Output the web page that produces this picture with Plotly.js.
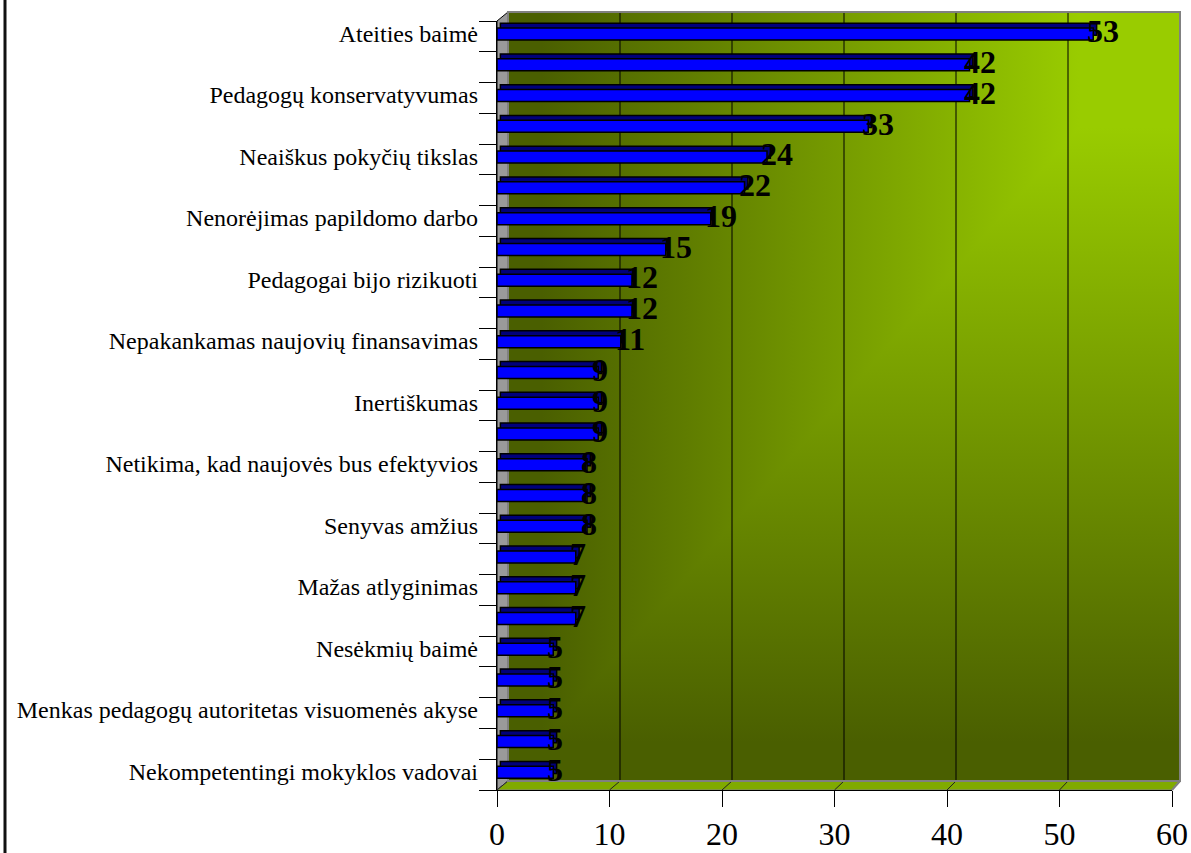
<!DOCTYPE html>
<html>
<head>
<meta charset="utf-8">
<script src="https://cdn.plot.ly/plotly-3.0.1.min.js"></script>
<style>html,body{margin:0;padding:0;background:#fff;}#chart{width:1191px;height:853px;}</style>
</head>
<body>
<div id="chart"></div>
<script>
// ---- data ----
const categories = [
  "Ateities baimė", "",
  "Pedagogų konservatyvumas", "",
  "Neaiškus pokyčių tikslas", "",
  "Nenorėjimas papildomo darbo", "",
  "Pedagogai bijo rizikuoti", "",
  "Nepakankamas naujovių finansavimas", "",
  "Inertiškumas", "",
  "Netikima, kad naujovės bus efektyvios", "",
  "Senyvas amžius", "",
  "Mažas atlyginimas", "",
  "Nesėkmių baimė", "",
  "Menkas pedagogų autoritetas visuomenės akyse", "",
  "Nekompetentingi mokyklos vadovai"
];
const values = [53, 42, 42, 33, 24, 22, 19, 15, 12, 12, 11, 9, 9, 9, 8, 8, 8, 7, 7, 7, 5, 5, 5, 5, 5];
const xTicks = [0, 10, 20, 30, 40, 50, 60];

// ---- geometry (pixels of the plot frame) ----
const L = 497, R = 1172, T = 21, B = 790;
const WX0 = 508, WX1 = 1180, WY0 = 12, WY1 = 781;
const XMAX = 60;
const px = X => (X - L) / (R - L);
const py = Y => (B - Y) / (B - T);
const wx = v => WX0 + v / XMAX * (WX1 - WX0);
const fx = v => L + v / XMAX * (R - L);

const idx = values.map((v, i) => i);
const labelIdx = idx.filter(i => categories[i] !== "");
const labelText = labelIdx.map(i => categories[i]);
const bounds = idx.map(i => i - 0.5).concat([values.length - 0.5]);
const DEPTH = 0.3;
const LABEL_LIFT = 0.1;

const serif = "'Liberation Serif', 'Times New Roman', serif";

// back wall gradient
const svg = "<svg xmlns='http://www.w3.org/2000/svg' viewBox='0 0 100 100' preserveAspectRatio='none'>" +
  "<defs>" +
  "<linearGradient id='h' x1='1' y1='0' x2='0' y2='0'><stop offset='0' stop-color='#99cc00'/><stop offset='0.15' stop-color='#99cc00'/><stop offset='0.95' stop-color='#4a5f00'/><stop offset='1' stop-color='#4a5f00'/></linearGradient>" +
  "<linearGradient id='v' x1='0' y1='0' x2='0' y2='1'><stop offset='0' stop-color='#99cc00'/><stop offset='0.15' stop-color='#99cc00'/><stop offset='0.95' stop-color='#4a5f00'/><stop offset='1' stop-color='#4a5f00'/></linearGradient>" +
  "</defs>" +
  "<rect x='0' y='0' width='100' height='100' fill='url(#v)'/>" +
  "<polygon points='0,0 100,0 0,100' fill='url(#h)'/>" +
  "</svg>";
const wallSrc = "data:image/svg+xml;charset=utf-8," + encodeURIComponent(svg);

const shapes = [];
// left side wall
shapes.push({type: 'path', xref: 'paper', yref: 'paper', layer: 'below',
  path: `M ${px(L)} ${py(B)} L ${px(L)} ${py(T)} L ${px(WX0)} ${py(WY0)} L ${px(WX0)} ${py(WY1)} Z`,
  fillcolor: '#9a9a9a', line: {color: '#000', width: 1}});
// floor
shapes.push({type: 'path', xref: 'paper', yref: 'paper', layer: 'below',
  path: `M ${px(L)} ${py(B)} L ${px(WX0)} ${py(WY1)} L ${px(WX1)} ${py(WY1)} L ${px(R)} ${py(B)} Z`,
  fillcolor: '#80aa00', line: {color: '#808080', width: 1}});
// wall grid lines
xTicks.filter(v => v > 0 && v < XMAX).forEach(v => {
  shapes.push({type: 'line', xref: 'paper', yref: 'paper', layer: 'below',
    x0: px(wx(v)), x1: px(wx(v)), y0: py(WY1), y1: py(WY0), line: {color: '#000', width: 1}});
});
// floor grid diagonals
xTicks.forEach(v => {
  shapes.push({type: 'line', xref: 'paper', yref: 'paper', layer: 'below',
    x0: px(fx(v)), x1: px(wx(v)), y0: py(B), y1: py(WY1), line: {color: '#222', width: 1}});
});
// wall border
shapes.push({type: 'rect', xref: 'paper', yref: 'paper', layer: 'below',
  x0: px(WX0), x1: px(WX1), y0: py(WY1), y1: py(WY0), line: {color: '#808080', width: 2}});
// floor front-right edge
shapes.push({type: 'line', xref: 'paper', yref: 'paper', layer: 'below',
  x0: px(R), x1: px(WX1), y0: py(B), y1: py(WY1), line: {color: '#808080', width: 2}});
// outer left border
shapes.push({type: 'line', xref: 'paper', yref: 'paper', layer: 'above',
  x0: px(5), x1: px(5), y0: py(-5), y1: py(860), line: {color: '#111', width: 3}});

const traces = [
  { // back / top face of 3D bars
    type: 'bar', orientation: 'h', x: values, y: idx, base: DEPTH,
    offset: -0.43, width: 0.39,
    marker: {color: '#00007a', line: {color: '#000', width: 1.5}},
    hoverinfo: 'skip', showlegend: false
  },
  { // front face
    type: 'bar', orientation: 'h', x: values, y: idx, base: 0,
    offset: -0.27, width: 0.39,
    marker: {color: '#0000ff', line: {color: '#000', width: 1.5}},
    hoverinfo: 'skip', showlegend: false
  },
  { // carrier for category label axis
    type: 'scatter', mode: 'markers', x: [0], y: [0], yaxis: 'y2',
    marker: {opacity: 0}, hoverinfo: 'skip', showlegend: false
  }
];

const annotations = values.map((v, i) => ({
  x: v, y: i, xref: 'x', yref: 'y', text: String(v), showarrow: false,
  xanchor: 'left', yanchor: 'middle', xshift: -8, yshift: 5,
  font: {family: serif, size: 32, color: '#000', weight: 'bold'}
}));

const layout = {
  width: 1191, height: 853,
  margin: {l: L, r: 1191 - R, t: T, b: 853 - B, pad: 0},
  paper_bgcolor: '#ffffff', plot_bgcolor: 'rgba(0,0,0,0)',
  barmode: 'overlay', bargap: 0,
  showlegend: false,
  xaxis: {
    range: [0, XMAX], autorange: false, tickmode: 'array', tickvals: xTicks,
    ticks: 'outside', ticklen: 16, tickwidth: 1, tickcolor: '#000',
    showline: true, linecolor: '#000', linewidth: 1,
    showgrid: false, zeroline: false, ticklabelstandoff: 0,
    tickfont: {family: serif, size: 32, color: '#000'}
  },
  yaxis: {
    range: [values.length - 0.5, -0.5], autorange: false,
    tickmode: 'array', tickvals: bounds, showticklabels: false,
    ticks: 'outside', ticklen: 17, tickwidth: 1, tickcolor: '#000',
    showline: true, linecolor: '#000', linewidth: 1,
    showgrid: false, zeroline: false
  },
  yaxis2: {
    overlaying: 'y', side: 'left',
    range: [values.length - 0.5 + LABEL_LIFT, -0.5 + LABEL_LIFT], autorange: false,
    tickmode: 'array', tickvals: labelIdx, ticktext: labelText,
    ticks: '', showline: false, showgrid: false, zeroline: false,
    ticklabelstandoff: 18,
    tickfont: {family: serif, size: 24, color: '#000'}
  },
  images: [{
    source: wallSrc, xref: 'paper', yref: 'paper',
    x: px(WX0), y: py(WY0), sizex: px(WX1) - px(WX0), sizey: py(WY0) - py(WY1),
    xanchor: 'left', yanchor: 'top', sizing: 'stretch', layer: 'below'
  }],
  shapes: shapes,
  annotations: annotations
};

Plotly.newPlot('chart', traces, layout, {displayModeBar: false, staticPlot: true});
</script>
</body>
</html>
